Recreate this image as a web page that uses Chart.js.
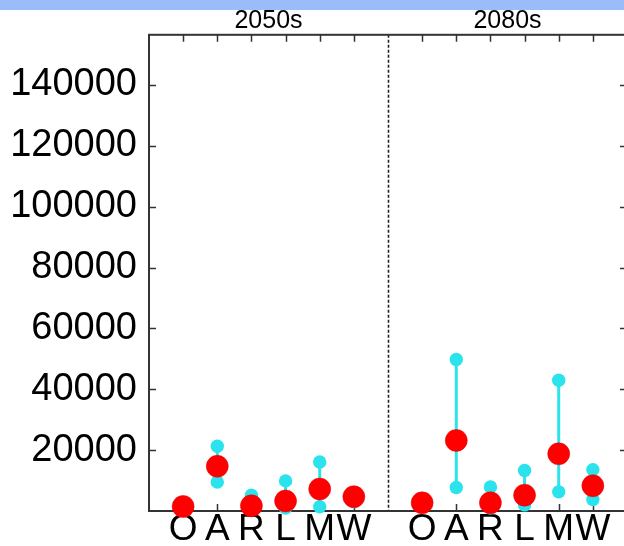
<!DOCTYPE html>
<html>
<head>
<meta charset="utf-8">
<script src="https://cdn.jsdelivr.net/npm/chart.js@4"></script>
<style>
  html, body { margin: 0; padding: 0; background: #fff; overflow: hidden; width: 624px; height: 546px; }
  #band { position: absolute; left: 0; top: 0; width: 624px; height: 10px; background: #9bbcfa; z-index: 2; }
  #wrap { position: absolute; left: 0; top: 0; width: 640px; height: 546px; }
</style>
</head>
<body>
<div id="band"></div>
<div id="wrap"><canvas id="chart" width="640" height="546"></canvas></div>
<script>
// category slots on the x axis (7 is the divider between periods)
const periods    = ["2050s", "2080s"];
const periodPos  = [3.5, 10.5];
const catLabels  = ["O", "A", "R", "L", "M", "W", "O", "A", "R", "L", "M", "W"];
const catPos     = [1, 2, 3, 4, 5, 6, 8, 9, 10, 11, 12, 13];
const dividerPos = 7;

// central estimate (red) and range (cyan)
const centre = [1500, 14700, 1700, 3300, 7200, 4700,   2700, 23200, 2700, 5200, 18800, 8300];
const lowVal = [1000,  9500,  800, 1000, 1400, 3000,   2000,  7700, 1000, 2000,  6300, 3800];
const highVal= [2000, 21300, 5200, 9900, 16100, 5900,  3000, 49800, 7900, 13300, 43000, 13600];

const yTicks = [20000, 40000, 60000, 80000, 100000, 120000, 140000];

const rangeData = [];
catPos.forEach((x, i) => {
  rangeData.push({ x: x, y: lowVal[i] });
  rangeData.push({ x: x, y: highVal[i] });
  rangeData.push({ x: x, y: null });
});

const frame = {
  id: "frame",
  beforeDatasetsDraw(chart) {
    const { ctx, chartArea: a, scales } = chart;
    ctx.save();
    ctx.strokeStyle = "#333";
    ctx.lineWidth = 1.5;
    ctx.beginPath();
    yTicks.forEach(v => {
      const y = Math.round(scales.y.getPixelForValue(v)) + 0.5;
      ctx.moveTo(a.left, y); ctx.lineTo(a.left + 7, y);
      ctx.moveTo(a.right, y); ctx.lineTo(a.right - 7, y);
    });
    catPos.forEach(v => {
      const x = Math.round(scales.x.getPixelForValue(v)) + 0.5;
      ctx.moveTo(x, a.top); ctx.lineTo(x, a.top + 7);
      ctx.moveTo(x, a.bottom); ctx.lineTo(x, a.bottom - 7);
    });
    ctx.stroke();

    // dashed divider between the two periods
    const dx = Math.round(scales.x.getPixelForValue(dividerPos)) + 0.5;
    ctx.setLineDash([3, 2]);
    ctx.strokeStyle = "#222";
    ctx.lineWidth = 1.6;
    ctx.beginPath();
    ctx.moveTo(dx, a.top); ctx.lineTo(dx, a.bottom);
    ctx.stroke();
    ctx.setLineDash([]);

    ctx.lineWidth = 2;
    ctx.strokeStyle = "#333";
    ctx.strokeRect(a.left, a.top, a.right - a.left, a.bottom - a.top);
    ctx.restore();
  }
};

new Chart(document.getElementById("chart"), {
  type: "scatter",
  data: {
    datasets: [
      {
        data: catPos.map((x, i) => ({ x: x, y: centre[i] })),
        backgroundColor: "#ff0000",
        borderColor: "#e80000",
        borderWidth: 0.5,
        pointRadius: 11,
        clip: false
      },
      {
        data: rangeData,
        showLine: true,
        spanGaps: false,
        borderColor: "#2ae3ec",
        borderWidth: 3,
        backgroundColor: "#2ae3ec",
        pointBorderWidth: 0,
        pointRadius: 6.7,
        clip: false
      }
    ]
  },
  options: {
    responsive: false,
    animation: false,
    layout: { padding: { left: 0, right: 13, top: 0, bottom: 0 } },
    plugins: { legend: { display: false }, tooltip: { enabled: false } },
    scales: {
      x: {
        type: "linear", position: "bottom", min: 0, max: 14,
        afterBuildTicks: s => { s.ticks = catPos.map(v => ({ value: v })); },
        afterFit: s => { s.height = 35; },
        grid: { display: false, drawTicks: false }, border: { display: false },
        ticks: {
          autoSkip: false, maxRotation: 0, padding: 0, color: "#000",
          font: { family: "Liberation Sans", size: 37, lineHeight: 1 },
          callback: (v, i) => catLabels[i]
        }
      },
      x2: {
        type: "linear", position: "top", min: 0, max: 14,
        afterBuildTicks: s => { s.ticks = periodPos.map(v => ({ value: v })); },
        afterFit: s => { s.height = 32; },
        grid: { display: false, drawTicks: false }, border: { display: false },
        ticks: {
          autoSkip: false, maxRotation: 0, padding: 1, color: "#000",
          font: { family: "Liberation Sans", size: 25, lineHeight: 1 },
          callback: (v, i) => periods[i]
        }
      },
      y: {
        min: 0, max: 156500,
        afterBuildTicks: s => { s.ticks = yTicks.map(v => ({ value: v })); },
        afterFit: s => { s.width = 149; },
        grid: { display: false, drawTicks: false }, border: { display: false },
        ticks: {
          padding: 12, color: "#000",
          font: { family: "Liberation Sans", size: 38 },
          callback: v => String(v)
        }
      }
    }
  },
  plugins: [frame]
});
</script>
</body>
</html>
